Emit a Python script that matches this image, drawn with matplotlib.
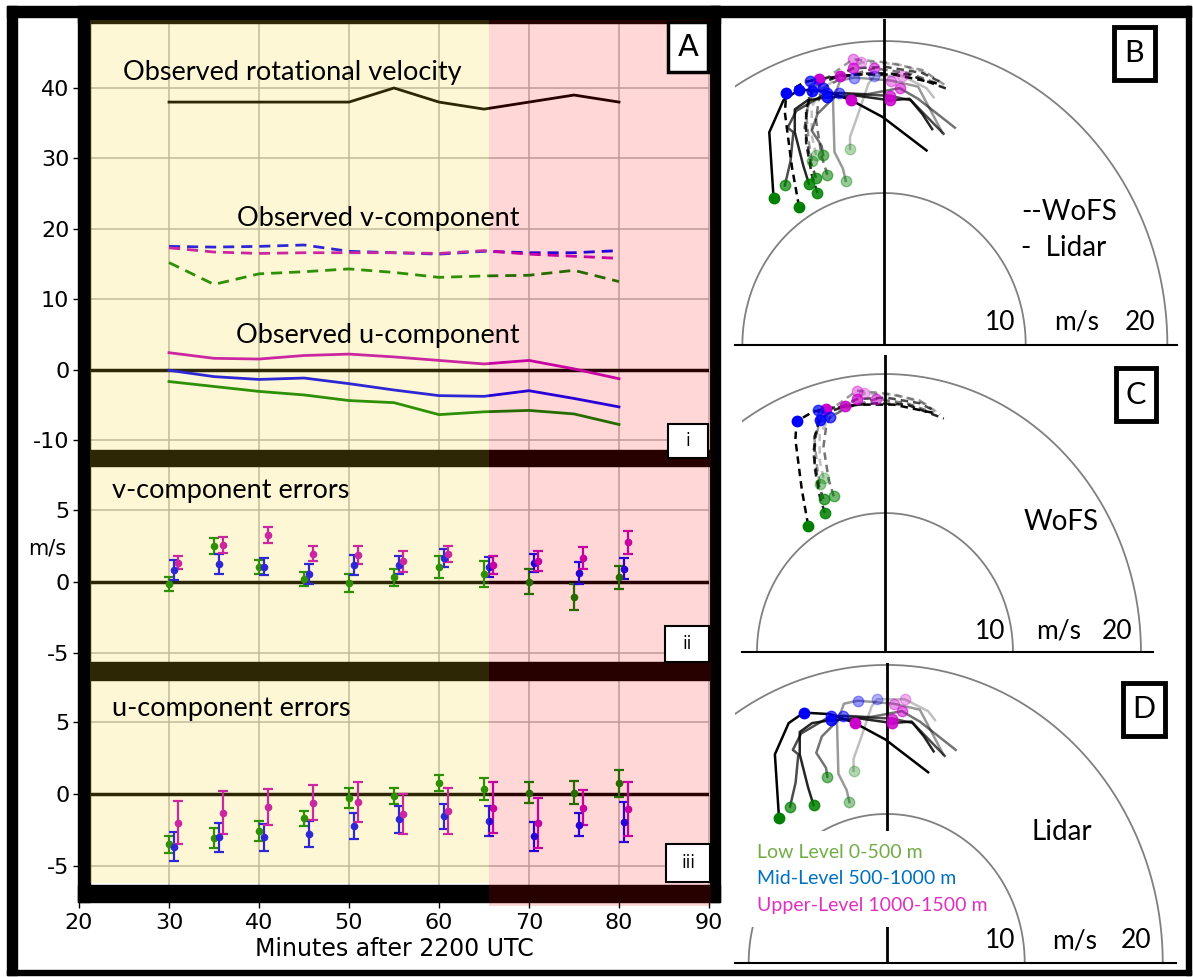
import numpy as np
import matplotlib.pyplot as plt
from matplotlib.patches import Rectangle

plt.rcParams['axes.unicode_minus'] = False

W, H = 1193, 977

# time series (minutes after 2200 UTC)
minutes = np.arange(30, 81, 5)
shift_minute = 65.5

rot_velocity = [38, 38, 38, 38, 38, 40, 38, 37, 38, 39, 38]

v_low = [15.2, 12.1, 13.6, 13.9, 14.3, 13.8, 13.1, 13.3, 13.4, 14.1, 12.5]
v_mid = [17.5, 17.4, 17.5, 17.7, 16.8, 16.6, 16.4, 16.8, 16.6, 16.6, 16.9]
v_upper = [17.3, 16.7, 16.5, 16.6, 16.6, 16.6, 16.5, 16.9, 16.4, 16.1, 15.8]

u_low = [-1.7, -2.4, -3.1, -3.6, -4.4, -4.7, -6.4, -6.0, -5.8, -6.3, -7.8]
u_mid = [-0.1, -1.0, -1.4, -1.2, -2.0, -2.9, -3.7, -3.8, -3.0, -4.1, -5.3]
u_upper = [2.4, 1.6, 1.5, 2.0, 2.2, 1.8, 1.3, 0.8, 1.3, 0.1, -1.3]

# WoFS minus lidar errors and their spread
verr_low = [-0.15, 2.5, 1.0, 0.2, -0.1, 0.3, 1.0, 0.5, 0.0, -1.1, 0.3]
verr_low_sd = [0.5, 0.55, 0.5, 0.5, 0.65, 0.6, 0.75, 0.9, 0.9, 0.9, 0.8]
verr_mid = [0.8, 1.25, 1.05, 0.55, 1.15, 1.15, 1.65, 1.0, 1.3, 0.6, 0.9]
verr_mid_sd = [0.7, 0.7, 0.6, 0.7, 0.7, 0.65, 0.65, 0.7, 0.6, 0.75, 0.75]
verr_upper = [1.3, 2.55, 3.25, 1.95, 1.85, 1.4, 1.9, 1.15, 1.45, 1.65, 2.75]
verr_upper_sd = [0.45, 0.55, 0.55, 0.5, 0.6, 0.7, 0.55, 0.6, 0.7, 0.75, 0.8]

uerr_low = [-3.5, -3.05, -2.55, -1.7, -0.25, -0.15, 0.75, 0.35, 0.1, 0.1, 0.75]
uerr_low_sd = [0.6, 0.7, 0.7, 0.55, 0.7, 0.55, 0.55, 0.75, 0.75, 0.8, 0.95]
uerr_mid = [-3.65, -3.0, -3.0, -2.8, -2.2, -1.75, -1.55, -1.85, -2.95, -2.15, -1.95]
uerr_mid_sd = [1.0, 1.0, 0.95, 0.9, 0.9, 0.95, 0.85, 1.05, 1.0, 0.8, 1.4]
uerr_upper = [-2.0, -1.3, -0.9, -0.6, -0.55, -1.4, -1.2, -0.95, -2.0, -0.95, -1.05]
uerr_upper_sd = [1.5, 1.5, 1.25, 1.2, 1.4, 1.4, 1.6, 1.75, 1.75, 1.2, 1.85]

# hodograph traces (u, v in m/s), newest first; level points are indices into each trace
lidar_u = [
    [-7.8, -8.1, -7.1, -6.0, -4.1, -2.3, -0.1, 3.0],
    [-5.3, -5.7, -6.3, -6.3, -5.4, -4.0, -1.9, 0.4, 1.8, 2.7, 3.4],
    [-7.0, -6.6, -6.4, -6.8, -6.2, -4.0, -1.9, 0.4, 1.9, 4.2],
    [-4.3, -4.4, -5.1, -4.7, -3.2, -1.2, 1.1, 2.4, 5.0],
    [-2.7, -2.9, -3.5, -3.6, -3.1, -2.1, 0.5, 2.4, 4.1],
    [-2.4, -2.4, -1.9, -1.1, -0.7, 1.3, 3.0, 3.5],
]
lidar_v = [
    [9.7, 14.0, 16.1, 16.8, 16.7, 16.1, 15.0, 12.8],
    [10.6, 11.8, 14.0, 15.5, 16.1, 16.3, 16.4, 16.1, 16.2, 15.2, 14.2],
    [10.5, 12.1, 14.0, 14.3, 15.4, 16.6, 16.5, 16.4, 16.1, 13.9],
    [12.5, 13.1, 14.1, 15.2, 16.6, 16.5, 16.9, 16.2, 14.3],
    [10.8, 11.6, 12.7, 16.1, 17.4, 17.6, 17.4, 17.0, 14.0],
    [12.9, 13.7, 15.0, 17.2, 17.7, 17.7, 16.9, 16.3],
]
lidar_levels = [(0, 3, 5), (0, 5, 7), (0, 5, 7), (0, 4, 6), (0, 5, 6), (0, 4, 5)]

wofs_u = [
    [-6.0, -6.5, -7.0, -6.9, -5.6, -4.6, -2.0, 0.7, 3.8],
    [-4.7, -5.1, -5.5, -5.5, -5.1, -4.3, -3.1, -0.7, 1.7, 4.6],
    [-4.8, -5.2, -5.6, -5.3, -5.2, -3.3, -2.2, 0.1, 2.7, 4.0],
    [-4.0, -4.4, -4.8, -4.6, -4.3, -2.9, -0.7, 1.7, 3.8],
    [-5.1, -5.3, -5.5, -4.9, -2.2, 0.1, 2.7, 4.3],
    [-4.8, -5.1, -5.1, -4.3, -1.6, 0.9, 3.3],
]
wofs_v = [
    [9.1, 11.7, 15.3, 16.6, 17.3, 17.5, 17.8, 17.8, 17.2],
    [10.0, 11.2, 13.3, 15.5, 16.7, 17.3, 17.7, 17.9, 17.8, 16.8],
    [11.0, 12.1, 14.3, 16.2, 17.4, 17.7, 18.2, 18.3, 17.9, 17.3],
    [11.2, 12.4, 14.8, 16.2, 16.9, 17.6, 18.2, 17.9, 17.2],
    [12.1, 13.3, 15.3, 17.0, 18.8, 18.6, 18.1, 17.1],
    [12.5, 13.8, 15.7, 16.9, 18.6, 18.5, 17.8],
]
wofs_levels = [(0, 3, 5), (0, 4, 6), (0, 4, 6), (0, 4, 6), (0, 3, 4), (0, 3, 4)]

level_names = ['Low Level 0-500 m', 'Mid-Level 500-1000 m', 'Upper-Level 1000-1500 m']

fig = plt.figure(figsize=(W / 100, H / 100), dpi=100)
fig.patch.set_facecolor('white')

text_font = ['Lato', 'DejaVu Sans']


def px_rect(x0, y0, x1, y1):
    return [x0 / W, 1 - y1 / H, (x1 - x0) / W, (y1 - y0) / H]


def band(x0, y0, x1, y1, **kw):
    l, b, w, h = px_rect(x0, y0, x1, y1)
    fig.add_artist(Rectangle((l, b), w, h, transform=fig.transFigure, **kw))


def tag(x0, y0, x1, y1, label, size, lw, family):
    band(x0, y0, x1, y1, facecolor='white', edgecolor='black', lw=lw, zorder=5)
    fig.text((x0 + x1) / 2 / W, 1 - (y0 + y1) / 2 / H, label, ha='center', va='center',
             fontsize=size, family=family, zorder=6)


def title_text(ax, x, y, s):
    # figure-level text so it sits above the shading
    fig.text(x, y, s, transform=ax.transData, fontsize=19.5, family=text_font,
             va='center', zorder=4)


# ---------------- left column: time series ----------------
ax1 = fig.add_axes(px_rect(79, 20, 709, 458))
ax2 = fig.add_axes(px_rect(79, 458, 709, 671))
ax3 = fig.add_axes(px_rect(79, 671, 709, 902))

ax1.set_ylim(-12.56, 49.66)
ax2.set_ylim(-6.26, 8.64)
ax3.set_ylim(-7.5, 8.54)
ax1.set_yticks([-10, 0, 10, 20, 30, 40])
ax2.set_yticks([-5, 0, 5])
ax3.set_yticks([-5, 0, 5])

for ax in (ax1, ax2, ax3):
    ax.set_xlim(20, 90)
    ax.set_xticks(np.arange(20, 91, 10))
    ax.set_facecolor('white')
    for s in ax.spines.values():
        s.set_visible(False)
    ax.grid(True, color='#b5b5b5', lw=1.1)
    ax.set_axisbelow(True)
    ax.axhline(0, color='black', lw=2.5, zorder=2)
    ax.tick_params(axis='y', labelsize=16, length=4, width=1, pad=3)
    ax.tick_params(axis='x', labelsize=16, length=4, width=1, pad=4)
for ax in (ax1, ax2):
    ax.tick_params(axis='x', bottom=False, labelbottom=False)

ax3.set_xlabel('Minutes after 2200 UTC', fontsize=17, labelpad=3)

lw_ts = 2.0
ax1.plot(minutes, rot_velocity, color='black', lw=lw_ts)
ax1.plot(minutes, v_low, color='green', lw=lw_ts, ls=(0, (4, 2.5)))
ax1.plot(minutes, v_mid, color='blue', lw=lw_ts, ls=(0, (4, 2.5)))
ax1.plot(minutes, v_upper, color='m', lw=lw_ts, ls=(0, (4, 2.5)))
ax1.plot(minutes, u_low, color='green', lw=lw_ts)
ax1.plot(minutes, u_mid, color='blue', lw=lw_ts)
ax1.plot(minutes, u_upper, color='m', lw=lw_ts)

title_text(ax1, 24.9, 42.2, 'Observed rotational velocity')
title_text(ax1, 37.6, 21.4, 'Observed v-component')
title_text(ax1, 37.5, 4.9, 'Observed u-component')

err_kw = dict(fmt='o', ms=4.5, capsize=3.5, elinewidth=1.6, capthick=1.6)
for ax, series in ((ax2, [(verr_low, verr_low_sd), (verr_mid, verr_mid_sd), (verr_upper, verr_upper_sd)]),
                   (ax3, [(uerr_low, uerr_low_sd), (uerr_mid, uerr_mid_sd), (uerr_upper, uerr_upper_sd)])):
    for k, ((vals, sd), col) in enumerate(zip(series, ['green', 'blue', 'm'])):
        ax.errorbar(minutes + 0.5 * k, vals, yerr=sd, color=col, zorder=3, **err_kw)

title_text(ax2, 23.7, 6.36, 'v-component errors')
title_text(ax3, 23.7, 5.94, 'u-component errors')
ax2.text(-0.051, 2.3, 'm/s', transform=ax2.get_yaxis_transform(), fontsize=15,
         ha='center', va='center')

# heavy frame of the time-series block
band(78, 17, 90, 902, color='black', zorder=1)
band(710, 6, 720, 902, color='black', zorder=1)
band(78, 6, 720, 23, color='black', zorder=1)
band(78, 885, 720, 902, color='black', zorder=1)
band(90, 450, 710, 466, color='black', zorder=1)
band(90, 662, 710, 680, color='black', zorder=1)

# before / after shading
shift_px = 79 + (shift_minute - 20) * 630 / 70
band(90, 20, shift_px, 883, facecolor='#FED820', alpha=0.185, lw=0, zorder=2)
band(shift_px, 20, 711, 906, facecolor='#FF0000', alpha=0.157, lw=0, zorder=2)

tag(668, 22, 708, 72, 'A', 22, 2.5, 'DejaVu Sans')
tag(668, 424, 708, 458, 'i', 12, 1.5, 'DejaVu Sans')
tag(665, 626, 709, 662, 'ii', 12, 1.5, 'DejaVu Sans')
tag(666, 844, 710, 882, 'iii', 12, 1.5, 'DejaVu Sans')

# ---------------- right column: hodographs ----------------
theta = np.linspace(0, np.pi, 300)
alphas = [1.0, 0.85, 0.7, 0.55, 0.4, 0.25]
level_colors = ['green', 'blue', '#CC00CC']


def hodo_axes(box, xlim, ylim):
    ax = fig.add_axes(px_rect(*box))
    ax.set_xlim(*xlim)
    ax.set_ylim(*ylim)
    ax.set_facecolor('none')
    for side in ('top', 'left', 'right'):
        ax.spines[side].set_visible(False)
    ax.spines['bottom'].set_linewidth(1.5)
    ax.set_xticks([])
    ax.set_yticks([])
    for r in (10, 20):
        ax.plot(r * np.cos(theta), r * np.sin(theta), color='#808080', lw=1.3, zorder=1)
    ax.axvline(0, color='black', lw=2, zorder=1)
    ax.text(8.2, 1.5, '10', fontsize=19, family=text_font, ha='center', va='center')
    ax.text(13.6, 1.5, 'm/s', fontsize=19, family=text_font, ha='center', va='center')
    ax.text(18.1, 1.5, '20', fontsize=19, family=text_font, ha='center', va='center')
    return ax


def draw_traces(ax, us, vs, levels, ls):
    for u, v, lev, a in zip(us, vs, levels, alphas):
        ax.plot(u, v, color='black', alpha=a, lw=1.8, ls=ls, zorder=2)
        for idx, col in zip(lev, level_colors):
            ax.plot(u[idx], v[idx], 'o', color=col, ms=7.5, alpha=max(a, 0.3), mec=col, zorder=3)


axB = hodo_axes((735, 19, 1177, 345), (-10.52, 20.68), (0, 21.45))
draw_traces(axB, wofs_u, wofs_v, wofs_levels, (0, (3, 2)))
draw_traces(axB, lidar_u, lidar_v, lidar_levels, '-')
axB.text(9.7, 8.75, '--WoFS', fontsize=20, family=text_font, va='center')
axB.text(9.7, 6.4, '-  Lidar', fontsize=20, family=text_font, va='center')

axC = hodo_axes((742, 355, 1153, 652), (-11.17, 20.94), (0, 21.37))
draw_traces(axC, wofs_u, wofs_v, wofs_levels, (0, (3, 2)))
axC.text(10.8, 9.35, 'WoFS', fontsize=20, family=text_font, va='center')

axD = hodo_axes((735, 663, 1176, 963), (-10.99, 20.96), (0, 20.13))
draw_traces(axD, lidar_u, lidar_v, lidar_levels, '-')
axD.text(10.5, 8.8, 'Lidar', fontsize=20, family=text_font, va='center')
axD.add_patch(Rectangle((0, 0.12), 0.45, 0.32, transform=axD.transAxes,
                        facecolor='white', edgecolor='none', zorder=4))
for k, (name, col) in enumerate(zip(level_names, ['#70AD47', '#0070C0', '#E030C0'])):
    axD.text(0.05, 0.37 - k * 0.09, name, transform=axD.transAxes, color=col,
             fontsize=14, family=text_font, va='center', zorder=5)

tag(1114, 27, 1155, 80, 'B', 22, 3.5, text_font)
tag(1116, 368, 1156, 421, 'C', 22, 3.5, text_font)
tag(1123, 683, 1165, 736, 'D', 22, 3.5, text_font)

# outer frame of the whole figure
band(7, 6, 17, 975, color='black', zorder=1)
band(7, 6, 1191, 17, color='black', zorder=1)
band(1186, 6, 1191, 975, color='black', zorder=1)
band(7, 970, 1191, 975, color='black', zorder=1)

fig.savefig('out.png', dpi=100)
